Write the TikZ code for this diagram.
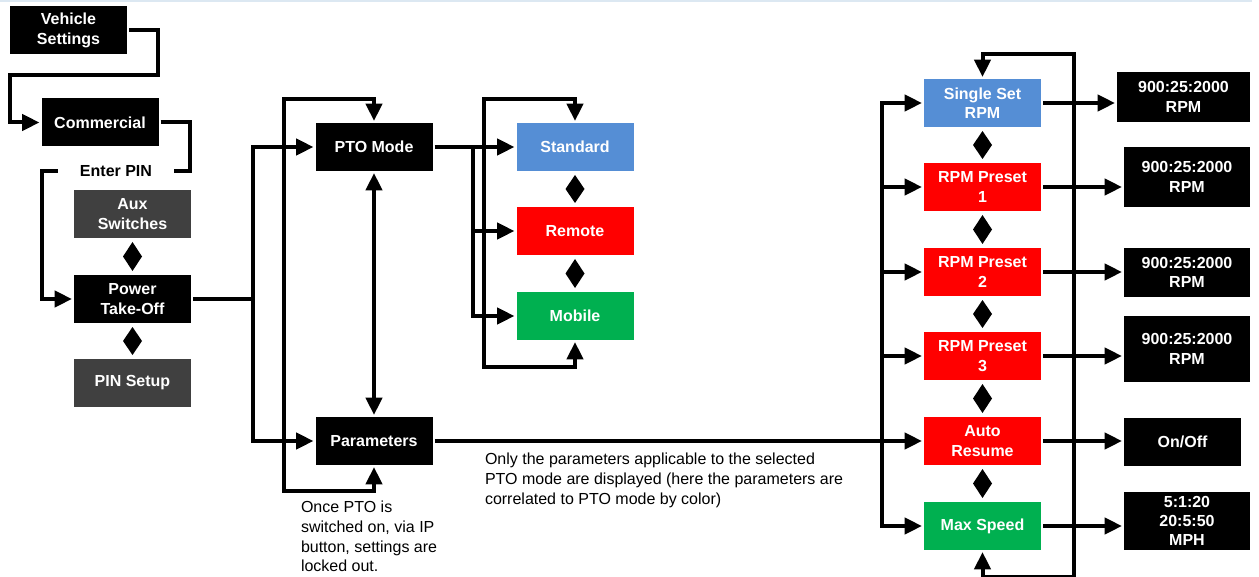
\documentclass[tikz,border=0pt]{standalone}
\usepackage{fontspec}
\setmainfont{Liberation Sans}
\usetikzlibrary{arrows.meta,calc}
\definecolor{modeblue}{RGB}{85,142,213}
\definecolor{modered}{RGB}{255,0,0}
\definecolor{modegreen}{RGB}{0,176,80}
\definecolor{boxgray}{RGB}{64,64,64}
\definecolor{edgeblue}{RGB}{220,232,242}
\tikzstyle{box}=[rectangle,minimum width=87.75pt,minimum height=36pt,inner sep=1pt,align=center,text=white,font=\bfseries\fontsize{12}{14.6}\selectfont]

\begin{document}
\begin{tikzpicture}[x=0.75pt,y=-0.75pt,line width=3pt,>={Triangle[length=13pt,width=12pt]}]
    \tikzstyle{blackbox}=[box,fill=black]
    \tikzstyle{graybox}=[box,fill=boxgray]
    \tikzstyle{bluebox}=[box,fill=modeblue]
    \tikzstyle{redbox}=[box,fill=modered]
    \tikzstyle{greenbox}=[box,fill=modegreen]
    \tikzstyle{valuebox}=[box,fill=black,minimum width=94.5pt]
    \tikzstyle{note}=[align=left,inner sep=0pt,anchor=north west,font=\fontsize{12}{14.8}\selectfont]
    \tikzstyle{toggle}=[fill=black]
    \useasboundingbox (0,0) rectangle (1259,577);
    \draw[edgeblue,line width=1.5pt] (0,1) -- (1252,1);
    % menu path
    \node[blackbox] (vehicle) at (68.5,30.5) {Vehicle\\Settings};
    \node[blackbox] (comm) at (100,122.5) {Commercial};
    \node[font=\bfseries\fontsize{12}{14.6}\selectfont,inner xsep=15pt] (pin) at (116,171) {Enter PIN};
    \node[graybox] (aux) at (132.5,214) {Aux\\Switches};
    \node[blackbox] (pto) at (132.5,299) {Power\\Take-Off};
    \node[graybox] (setup) at (132.5,383) {PIN Setup};
    % PTO menus
    \node[blackbox] (mode) at (374,147) {PTO Mode};
    \node[blackbox] (param) at (374,441) {Parameters};
    \node[bluebox] (std) at (575,147) {Standard};
    \node[redbox] (rem) at (575,231) {Remote};
    \node[greenbox] (mob) at (575,316) {Mobile};
    % parameter list
    \node[bluebox] (single) at (982.5,103) {Single Set\\RPM};
    \node[redbox] (pre1) at (982.5,187) {RPM Preset\\1};
    \node[redbox] (pre2) at (982.5,272) {RPM Preset\\2};
    \node[redbox] (pre3) at (982.5,356) {RPM Preset\\3};
    \node[redbox] (auto) at (982.5,441) {Auto\\Resume};
    \node[greenbox] (max) at (982.5,526) {Max Speed};
    % values
    \node[valuebox,minimum width=99.75pt,minimum height=37.5pt] (v1) at (1183.5,97) {900:25:2000\\RPM};
    \node[valuebox,minimum height=45pt] (v2) at (1187,177) {900:25:2000\\RPM};
    \node[valuebox] (v3) at (1187,272.5) {900:25:2000\\RPM};
    \node[valuebox,minimum height=49.5pt] (v4) at (1187,349) {900:25:2000\\RPM};
    \node[valuebox,minimum width=87.75pt] (v5) at (1182.5,441.5) {On/Off};
    \node[valuebox,minimum height=43.5pt,font=\bfseries\fontsize{12}{14}\selectfont] (v6) at (1187,521) {5:1:20\\20:5:50\\MPH};
    % notes
    \node[note] (lockout) at (299,499) {Once PTO is\\switched on, via IP\\button, settings are\\locked out.};
    \node[note] (filter) at (483,451) {Only the parameters applicable to the selected\\PTO mode are displayed (here the parameters are\\correlated to PTO mode by color)};

    \draw[->] (vehicle.east) -| (158,75) -| (10,122.5) -- (comm.west);
    \draw (comm.east) -| (190,171) -- (pin.east);
    \draw[->] (pin.west) -| (42,299) -- (pto.west);

    \coordinate (split) at (253,299);
    \draw (pto.east) -- (split);
    \draw[->] (split) |- (mode.west);
    \draw[->] (split) |- (param.west);
    \draw[<->] (param.south) -- ++(0,24) -| (284,99) -| (mode.north);
    \draw[<->] (mode.south) -- (param.north);

    \coordinate (fork) at (473,147);
    \draw[->] (mode.east) -- (std.west);
    \draw[->] (fork) |- (rem.west);
    \draw[->] (fork) |- (mob.west);
    \draw[<->] (mob.south) -- ++(0,25) -| (484,99) -| (std.north);

    \coordinate (bus) at (882,441);
    \draw[->] (param.east) -- (auto.west);
    \foreach \n in {single,pre1,pre2,pre3,max}
        \draw[->] (bus) |- (\n.west);
    \draw[<->] (max.south) -- ++(0,25) -| (1074,54) -| (single.north);
    \foreach \a/\b in {single/v1,pre1/v2,pre2/v3,pre3/v4,auto/v5,max/v6}
        \draw[->] (\a.east) -- (\a.east -| \b.west);

    % up/down toggles
    \foreach \a/\b in {aux/pto,pto/setup,std/rem,rem/mob,single/pre1,pre1/pre2,pre2/pre3,pre3/auto,auto/max}
        \fill[toggle] ([yshift=-1.5pt]\a.south) -- ($(\a.south)!.5!(\b.north)+(9.5,0)$)
            -- ([yshift=1.5pt]\b.north) -- ($(\a.south)!.5!(\b.north)+(-9.5,0)$) -- cycle;
\end{tikzpicture}
\end{document}
